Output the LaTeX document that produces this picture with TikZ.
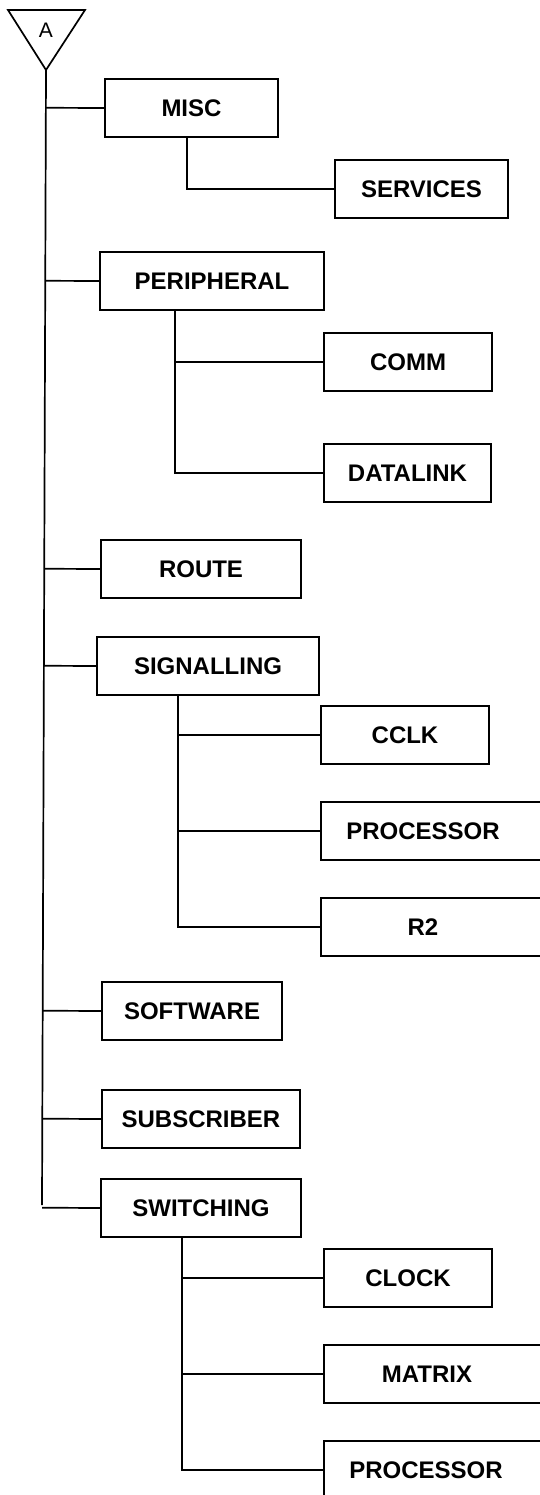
\documentclass[tikz,border=0pt]{standalone}
\usepackage{fontspec}
\setmainfont{Liberation Sans}
\usetikzlibrary{calc}
\newcommand\boxfont{\fontsize{24}{28}\selectfont\bfseries}
\tikzset{
  box/.style={draw, line width=1.7pt, rectangle, minimum height=58pt, inner sep=0pt, outer sep=0pt, anchor=north west, font=\boxfont},
  wide/.style={box, minimum width=240pt},
  conn/.style={line width=1.7pt},
}
\begin{document}
\begin{tikzpicture}[x=1pt,y=-1pt]
\useasboundingbox (0,0) rectangle (540,1495);
\clip (0,0) rectangle (540,1495);
% root triangle
\draw[line width=1.7pt, line join=miter] (8,10) -- (85,10) -- (46,70) -- cycle;
\coordinate (tip) at (46,70);
\coordinate (mend) at (42,1205);
\node[font=\fontsize{21}{24}\selectfont] (A) at (46,30) {A};
\draw[conn] (tip) -- (mend);
% first level
\node[box, minimum width=173pt] (misc) at (105,79) {MISC};
\node[box, minimum width=224pt] (peri) at (100,252) {PERIPHERAL};
\node[box, minimum width=200pt] (route) at (101,540) {ROUTE};
\node[box, minimum width=222pt] (sig) at (97,637) {SIGNALLING};
\node[box, minimum width=180pt] (soft) at (102,982) {SOFTWARE};
\node[box, minimum width=198pt] (subs) at (102,1090) {SUBSCRIBER};
\node[box, minimum width=200pt] (sw) at (101,1179) {SWITCHING};
% second level
\node[box, minimum width=173pt] (serv) at (335,160) {SERVICES};
\node[box, minimum width=168pt] (comm) at (324,333) {COMM};
\node[box, minimum width=167pt] (dl) at (324,444) {DATALINK};
\node[box, minimum width=168pt] (cclk) at (321,706) {CCLK};
\node[wide, label={[font=\boxfont, xshift=-18pt]center:PROCESSOR}] (proca) at (321,802) {};
\node[wide, label={[font=\boxfont, xshift=-18pt]center:R2}] (r2) at (321,898) {};
\node[box, minimum width=168pt] (clock) at (324,1249) {CLOCK};
\node[wide, label={[font=\boxfont, xshift=-17pt]center:MATRIX}] (matrix) at (324,1345) {};
\node[wide, label={[font=\boxfont, xshift=-18pt]center:PROCESSOR}] (procb) at (324,1441) {};
% connectors from the main line
\foreach \n in {misc,peri,route,sig,soft,subs,sw}{
  \draw[conn] (\n.west) -- ($(tip)!(\n.west)!(mend)$);
}
% sub-branches
\draw[conn] ([xshift=82pt]misc.south west) |- (serv.west);
\draw[conn] ([xshift=75pt]peri.south west) |- (comm.west);
\draw[conn] ([xshift=75pt]peri.south west) |- (dl.west);
\draw[conn] ([xshift=81pt]sig.south west) |- (cclk.west);
\draw[conn] ([xshift=81pt]sig.south west) |- (proca.west);
\draw[conn] ([xshift=81pt]sig.south west) |- (r2.west);
\draw[conn] ([xshift=81pt]sw.south west) |- (clock.west);
\draw[conn] ([xshift=81pt]sw.south west) |- (matrix.west);
\draw[conn] ([xshift=81pt]sw.south west) |- (procb.west);
\end{tikzpicture}
\end{document}
